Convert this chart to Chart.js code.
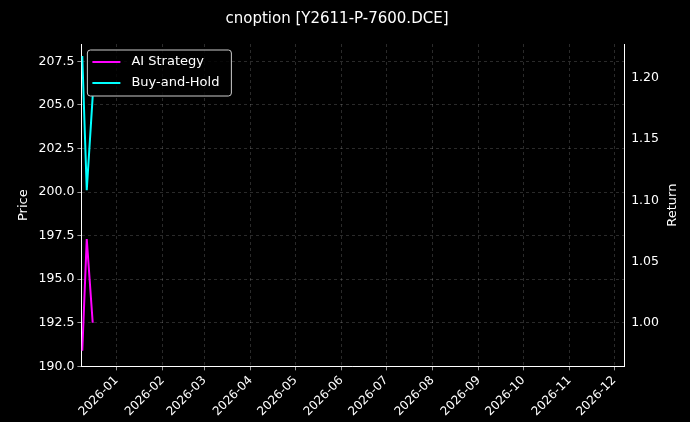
<!DOCTYPE html>
<html><head><script src="https://cdn.jsdelivr.net/npm/chart.js@4"></script>
<style>html,body{margin:0;background:#000}#w{width:690px;height:422px}</style></head>
<body><div id="w"><canvas id="c"></canvas></div>
<script>
const dayOffsets=[-23,-20,-16]; // days relative to 2026-01-01
const aiStrategy=[190.9,197.3,192.5];
const buyHold=[207.8,200.1,205.5];
const monthDays=[0,31,59,90,120,151,181,212,243,273,304,334];
const monthLabels=['2026-01','2026-02','2026-03','2026-04','2026-05','2026-06','2026-07','2026-08','2026-09','2026-10','2026-11','2026-12'];
const priceTicks=[190,192.5,195,197.5,200,202.5,205,207.5];
const returnTicks=[1.00,1.05,1.10,1.15,1.20];
const F='DejaVu Sans';
Chart.defaults.font.family=F;Chart.defaults.color='#fff';
const grid={color:'rgba(255,255,255,0.28)',lineWidth:0.6,drawTicks:true,tickColor:'#fff',tickLength:4};
const border={color:'#fff',dash:[3,3]};
const legendPlugin={id:'lg',afterDraw(ch){const c=ch.ctx,a=ch.chartArea;const x=a.left+6,y=a.top+6;
c.save();c.fillStyle='rgba(0,0,0,0.8)';c.strokeStyle='#ccc';c.lineWidth=1;
c.beginPath();c.roundRect(x,y,144,46,3);c.fill();c.stroke();
const items=[['AI Strategy','#ff00ff'],['Buy-and-Hold','#00ffff']];
c.font='13px '+F;c.textBaseline='middle';
items.forEach((it,i)=>{const yy=y+12+i*21;c.strokeStyle=it[1];c.lineWidth=2;c.beginPath();c.moveTo(x+5,yy);c.lineTo(x+33,yy);c.stroke();c.fillStyle='#fff';c.fillText(it[0],x+44,yy);});
c.fillStyle='#fff';c.font='13px '+F;c.textAlign='center';
c.translate(673,(a.top+a.bottom)/2);c.rotate(-Math.PI/2);c.fillText('Return',0,0);
c.restore();}};
const bg={id:'bg',beforeDraw(ch){ch.ctx.fillStyle='#000';ch.ctx.fillRect(0,0,ch.width,ch.height);}};
new Chart(document.getElementById('c'),{type:'line',
data:{datasets:[
{label:'AI Strategy',data:dayOffsets.map((d,i)=>({x:d,y:aiStrategy[i]})),borderColor:'#ff00ff',borderWidth:2,pointRadius:0,yAxisID:'y'},
{label:'Buy-and-Hold',data:dayOffsets.map((d,i)=>({x:d,y:buyHold[i]})),borderColor:'#00ffff',borderWidth:2,pointRadius:0,yAxisID:'y'}]},
options:{responsive:true,maintainAspectRatio:false,animation:false,
layout:{padding:{left:12,right:28,top:10,bottom:0}},
plugins:{legend:{display:false},tooltip:{enabled:false},
title:{display:true,text:'cnoption [Y2611-P-7600.DCE]',font:{size:15,weight:'normal'},color:'#fff',padding:{top:0,bottom:16}}},
scales:{
x:{type:'linear',min:-23.6,max:340.7,grid:grid,border:border,
afterBuildTicks:s=>{s.ticks=monthDays.map(v=>({value:v}));},
ticks:{callback:(v)=>{const i=monthDays.indexOf(v);return i>=0?monthLabels[i]:'';},maxRotation:45,minRotation:45,font:{size:12},color:'#fff',autoSkip:false}},
y:{position:'left',min:190,max:208.49,grid:grid,border:border,
afterBuildTicks:s=>{s.ticks=priceTicks.map(v=>({value:v}));},
ticks:{callback:v=>v.toFixed(1),font:{size:12.5},color:'#fff'},
title:{display:true,text:'Price',font:{size:13},color:'#fff'}},
y2:{position:'right',min:0.964,max:1.228,grid:{display:false,tickColor:'#fff',tickLength:4},border:{color:'#fff'},
afterBuildTicks:s=>{s.ticks=returnTicks.map(v=>({value:v}));},
ticks:{callback:v=>v.toFixed(2),font:{size:12.5},color:'#fff'}}}},
plugins:[bg,legendPlugin]});
</script></body></html>
